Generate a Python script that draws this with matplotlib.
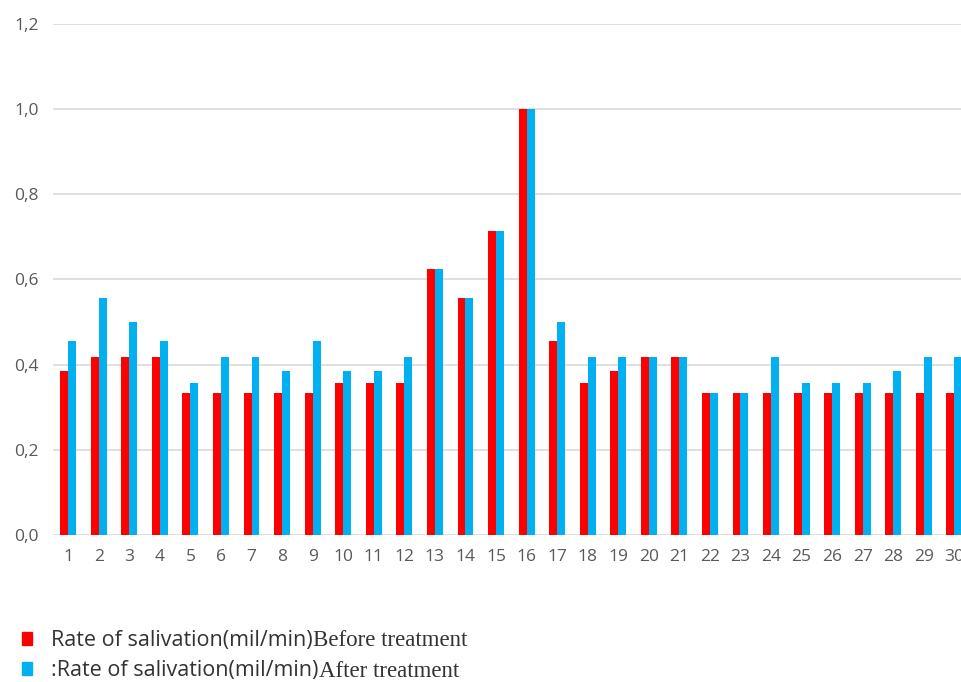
import numpy as np
import matplotlib.pyplot as plt
from matplotlib.patches import Patch

patients = [str(i) for i in range(1, 31)]
before = [0.385, 0.417, 0.417, 0.417, 0.333, 0.333, 0.333, 0.333, 0.333, 0.357,
          0.357, 0.357, 0.625, 0.556, 0.714, 1.0, 0.455, 0.357, 0.385, 0.417,
          0.417, 0.333, 0.333, 0.333, 0.333, 0.333, 0.333, 0.333, 0.333, 0.333]
after = [0.455, 0.556, 0.5, 0.455, 0.357, 0.417, 0.417, 0.385, 0.455, 0.385,
         0.385, 0.417, 0.625, 0.556, 0.714, 1.0, 0.5, 0.417, 0.417, 0.417,
         0.417, 0.333, 0.333, 0.417, 0.357, 0.357, 0.357, 0.385, 0.417, 0.417]
yticks = [0.0, 0.2, 0.4, 0.6, 0.8, 1.0, 1.2]
ytick_labels = ["0,0", "0,2", "0,4", "0,6", "0,8", "1,0", "1,2"]
# legend text: first part is sans, the rest is serif in the original
legend_sans = ["Rate of salivation(mil/min)", ":Rate of salivation(mil/min)"]
legend_serif = ["Before treatment", "After treatment"]

red = "#ff0000"
blue = "#00b0f0"

fig = plt.figure(figsize=(9.62, 6.82), dpi=100)
ax = fig.add_axes([0.055, 0.2155, 0.953, 0.7495])

x = np.arange(len(patients))
w = 0.26
ax.bar(x - w / 2, before, w, color=red, zorder=3)
ax.bar(x + w / 2, after, w, color=blue, zorder=3)

ax.set_xlim(-0.5, len(patients) - 0.5)
ax.set_ylim(0, 1.2)
ax.set_yticks(yticks)
ax.set_yticklabels(ytick_labels)
ax.set_xticks(x)
ax.set_xticklabels(patients)
ax.grid(axis="y", color="#d9d9d9", linewidth=1.2, zorder=0)
for s in ax.spines.values():
    s.set_visible(False)
ax.tick_params(length=0, labelsize=12.5, labelcolor="#595959", pad=10)
for lab in ax.get_xticklabels() + ax.get_yticklabels():
    lab.set_family("Open Sans")

handles = [Patch(color=red), Patch(color=blue)]
leg = fig.legend(handles, legend_sans, loc="upper left", bbox_to_anchor=(0.003, 0.105),
                 frameon=False, handlelength=0.45, handleheight=0.55,
                 handletextpad=0.9, labelspacing=0.45,
                 prop={"family": "Open Sans", "size": 15.5})
for t in leg.get_texts():
    t.set_color("#333333")

fig.canvas.draw()
r = fig.canvas.get_renderer()
for t, tail in zip(leg.get_texts(), legend_serif):
    bb = t.get_window_extent(r)
    fig.text(bb.x1 / fig.bbox.width, (bb.y0 + 4.5) / fig.bbox.height, tail,
             family="Liberation Serif", fontsize=16.5, color="#333333", va="baseline")

fig.savefig("out.png", dpi=100)
